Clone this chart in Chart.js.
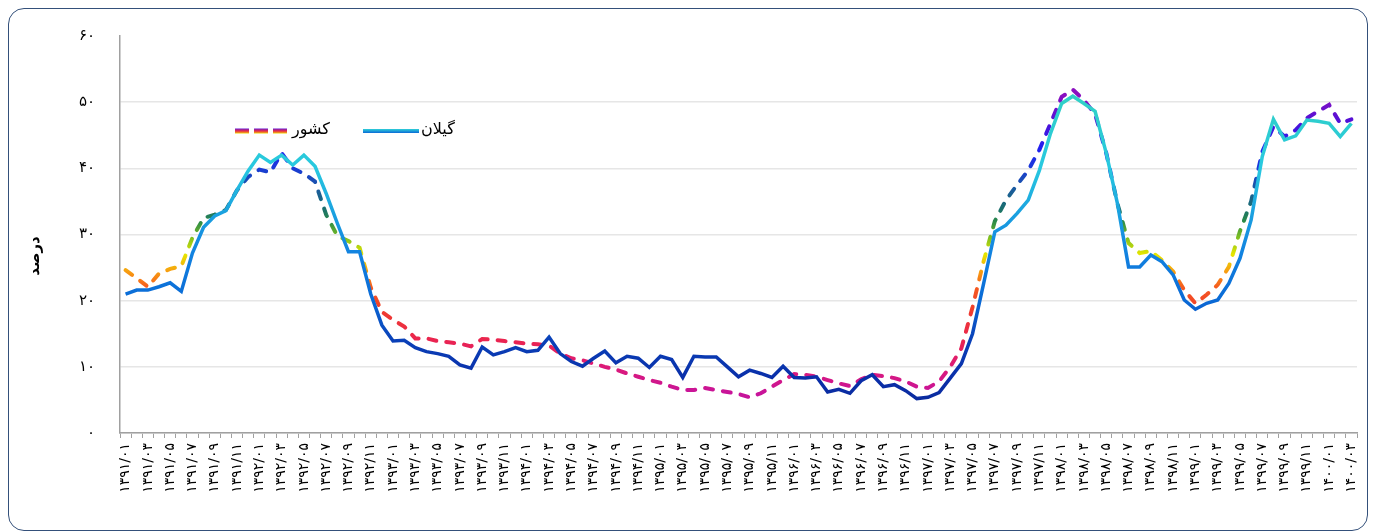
<!DOCTYPE html>
<html lang="fa">
<head>
    <meta charset="UTF-8">
    <title>درصد - کشور و گیلان</title>
    <script src="https://cdn.jsdelivr.net/npm/chart.js"></script>
    <style>
        body { margin: 0; background: #fff; font-family: 'DejaVu Sans', sans-serif; }
        .wrap { position: relative; width: 1376px; height: 532px; }
        .frame { position: absolute; left: 8px; top: 8px; width: 1358px; height: 521px;
                 border: 1.5px solid #34507a; border-radius: 16px; pointer-events: none; }
    </style>
</head>
<body>
<div class="wrap">
    <canvas id="myChart" width="1376" height="532"></canvas>
    <div class="frame"></div>
</div>

<script>
    // ماه‌ها از ۱۳۹۱/۰۱ تا ۱۴۰۰/۰۳
    const firstYear = 1391;
    const lastYear = 1400;
    const lastMonth = 3;
    const labels = [];
    for (let y = firstYear; y <= lastYear; y++) {
        for (let m = 1; m <= 12; m++) {
            if (y === lastYear && m > lastMonth) break;
            labels.push(y + '/' + String(m).padStart(2, '0'));
        }
    }

    const seriesNames = ['کشور', 'گیلان'];
    const yTitle = 'درصد';
    const yTicks = [0, 10, 20, 30, 40, 50, 60];

    // کشور
    const countryValues = [
        24.6, 23.4, 22.1, 24.1, 24.8, 25.2, 29.5, 32.5, 33.0, 33.7, 36.7, 38.7,
        39.8, 39.4, 42.3, 40.0, 39.2, 38.0, 33.0, 29.8, 29.0, 28.0, 22.0, 18.3,
        17.1, 16.1, 14.3, 14.3, 13.9, 13.7, 13.5, 13.1, 14.2, 14.1, 13.9, 13.7,
        13.5, 13.4, 13.2, 12.0, 11.3, 11.0, 10.5, 10.0, 9.6, 9.0, 8.5, 8.0,
        7.6, 7.0, 6.5, 6.5, 6.8, 6.5, 6.2, 5.9, 5.4, 6.0, 7.0, 8.0,
        8.9, 8.8, 8.5, 8.0, 7.5, 7.1, 8.1, 8.8, 8.6, 8.3, 7.8, 7.0,
        6.8, 7.8, 10.0, 12.8, 19.0, 26.0, 32.0, 35.2, 37.5, 39.7, 42.8, 46.8,
        50.8, 51.9, 50.3, 48.2, 42.3, 34.7, 28.7, 27.2, 27.5, 26.1, 24.4, 21.6,
        19.6, 20.9, 22.4, 25.1, 30.5, 35.0, 42.5, 46.3, 44.8, 45.8, 47.6, 48.6,
        49.6, 46.8, 47.4
    ];

    // گیلان
    const gilanValues = [
        21.0, 21.6, 21.6, 22.1, 22.7, 21.4, 27.2, 31.1, 32.8, 33.6, 36.7, 39.6,
        42.0, 40.9, 42.0, 40.5, 42.0, 40.3, 36.2, 31.7, 27.4, 27.4, 21.0, 16.3,
        13.9, 14.0, 12.9, 12.3, 12.0, 11.6, 10.3, 9.8, 13.0, 11.8, 12.3, 12.9,
        12.3, 12.5, 14.5, 12.0, 10.8, 10.1, 11.3, 12.4, 10.6, 11.6, 11.3, 9.9,
        11.6, 11.1, 8.4, 11.6, 11.5, 11.5, 10.0, 8.5, 9.5, 9.0, 8.4, 10.1,
        8.4, 8.3, 8.5, 6.2, 6.6, 6.0, 7.9, 8.8, 7.0, 7.3, 6.4, 5.2,
        5.4, 6.1, 8.3, 10.5, 15.0, 22.6, 30.4, 31.4, 33.2, 35.2, 39.7, 45.3,
        49.8, 50.9, 49.8, 48.6, 42.3, 34.7, 25.1, 25.1, 26.9, 25.9, 23.9, 20.1,
        18.7, 19.6, 20.1, 22.6, 26.4, 32.2, 41.8, 47.4, 44.3, 44.9, 47.3, 47.1,
        46.8, 44.8, 46.8
    ];

    // رنگ‌ها بر حسب مقدار (برای گرادیان عمودی)
    const countryStops = [
        [0, '#a8169e'], [6, '#c8149a'], [10, '#dc1a78'], [14, '#ea2450'],
        [19, '#f0402a'], [22, '#f55a20'], [24.5, '#f7a010'], [27, '#e6e600'],
        [29.5, '#80c020'], [32, '#2a8a48'], [34, '#1a6e70'], [37, '#1a5aa0'],
        [40, '#1a3ad8'], [43, '#2020f0'], [47, '#5010d8'], [51, '#8a10c0'], [60, '#9010b8']
    ];
    const gilanStops = [
        [0, '#0a2890'], [8, '#0a2ea8'], [14, '#0a40b8'], [20, '#0a6ad6'],
        [27, '#1282e0'], [33, '#1aa0e0'], [40, '#28c8e0'], [50, '#30d0c8'], [60, '#30d0c0']
    ];

    const toFa = s => String(s).replace(/[0-9]/g, d => '۰۱۲۳۴۵۶۷۸۹'[d]);

    function valueGradient(chart, stops, fallback) {
        const y = chart.scales.y;
        if (!chart.chartArea || !y) return fallback;
        const y0 = y.getPixelForValue(0), y1 = y.getPixelForValue(60);
        if (!isFinite(y0) || !isFinite(y1) || y0 === y1) return fallback;
        const g = chart.ctx.createLinearGradient(0, y0, 0, y1);
        stops.forEach(s => g.addColorStop(s[0] / 60, s[1]));
        return g;
    }

    Chart.defaults.font.family = "'DejaVu Sans', sans-serif";
    Chart.defaults.color = '#000';

    const extras = {
        id: 'extras',
        afterDraw(chart) {
            const ctx = chart.ctx;
            // عنوان محور
            ctx.save();
            ctx.translate(35, 256);
            ctx.rotate(-Math.PI / 2);
            ctx.font = "bold 15px 'DejaVu Sans'";
            ctx.textAlign = 'center';
            ctx.textBaseline = 'middle';
            ctx.fillStyle = '#000';
            ctx.fillText(yTitle, 0, 0);
            ctx.restore();

            // راهنما
            const ly = 131;
            ctx.save();
            let g = ctx.createLinearGradient(0, ly - 2.5, 0, ly + 2.5);
            g.addColorStop(0, '#6a1ad0'); g.addColorStop(0.5, '#e8284a'); g.addColorStop(1, '#f0d000');
            ctx.strokeStyle = g;
            ctx.lineWidth = 5;
            ctx.setLineDash([14, 5]);
            ctx.beginPath(); ctx.moveTo(235, ly); ctx.lineTo(288, ly); ctx.stroke();

            g = ctx.createLinearGradient(0, ly - 2, 0, ly + 2);
            g.addColorStop(0, '#30d0d8'); g.addColorStop(1, '#0a6ad6');
            ctx.strokeStyle = g;
            ctx.lineWidth = 4;
            ctx.setLineDash([]);
            ctx.beginPath(); ctx.moveTo(363, ly); ctx.lineTo(419, ly); ctx.stroke();

            ctx.font = "16px 'DejaVu Sans'";
            ctx.fillStyle = '#000';
            ctx.textBaseline = 'middle';
            ctx.textAlign = 'left';
            ctx.fillText(seriesNames[0], 292, ly - 1);
            ctx.fillText(seriesNames[1], 421, ly - 1);
            ctx.restore();
        }
    };

    const ctx = document.getElementById('myChart').getContext('2d');
    const chart = new Chart(ctx, {
        type: 'line',
        data: {
            labels: labels,
            datasets: [{
                label: seriesNames[1],
                data: gilanValues,
                borderColor: c => valueGradient(c.chart, gilanStops, '#0a6ad6'),
                borderWidth: 3.5,
                pointRadius: 0,
                tension: 0,
                order: 1
            }, {
                label: seriesNames[0],
                data: countryValues,
                borderColor: c => valueGradient(c.chart, countryStops, '#e8284a'),
                borderWidth: 4,
                borderDash: [8, 10],
                borderCapStyle: 'round',
                pointRadius: 0,
                tension: 0,
                order: 2
            }]
        },
        options: {
            responsive: false,
            animation: false,
            layout: { padding: { left: 0, top: 36, right: 19, bottom: 0 } },
            plugins: {
                legend: { display: false },
                tooltip: { enabled: false }
            },
            scales: {
                x: {
                    offset: true,
                    afterFit: s => { s.height = 99; },
                    border: { color: '#a0a0a0', width: 1.5 },
                    grid: { offset: true, drawOnChartArea: false, drawTicks: true, tickLength: 5, color: '#a0a0a0' },
                    ticks: {
                        autoSkip: false,
                        minRotation: 90,
                        maxRotation: 90,
                        padding: 5,
                        font: { size: 14 },
                        callback: (v, i) => i % 2 === 0 ? toFa(labels[i]) : ''
                    }
                },
                y: {
                    min: 0,
                    max: 60,
                    afterFit: s => { s.width = 120; },
                    afterBuildTicks: s => { s.ticks = yTicks.map(v => ({ value: v })); },
                    border: { color: '#a0a0a0', width: 1.5 },
                    grid: {
                        drawTicks: false,
                        color: c => (c.tick && c.tick.value === 60) ? 'rgba(0,0,0,0)' : '#e6e6e6',
                        lineWidth: 1.5
                    },
                    ticks: {
                        padding: 25,
                        font: { size: 15 },
                        callback: v => toFa(v)
                    }
                }
            }
        },
        plugins: [extras]
    });
    // نمودار دوباره رسم شود تا گرادیان‌ها با ابعاد نهایی ساخته شوند
    chart.update();
</script>
</body>
</html>
